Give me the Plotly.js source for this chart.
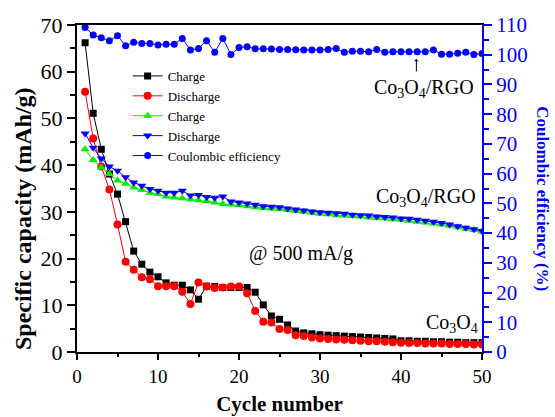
<!DOCTYPE html>
<html><head><meta charset="utf-8">
<script src="https://cdn.plot.ly/plotly-3.0.1.min.js"></script>
<style>html,body{margin:0;padding:0;background:#fff}#chart{width:555px;height:417px}</style>
</head><body><div id="chart"></div>
<script>
const cycles = Array.from({length:50},(_,i)=>i+1);
const chargeCo3O4 = [66.2,51.1,43.4,38.1,33.8,27.9,21.6,18.8,17.1,16.1,
  14.8,14.3,14.3,13.3,11.3,14.1,14.0,13.8,13.8,13.8,
  13.8,12.8,10.1,7.7,7.0,5.8,4.5,4.1,3.9,3.7,
  3.6,3.5,3.4,3.3,3.2,3.1,3.0,2.9,2.8,2.4,
  2.4,2.3,2.3,2.2,2.2,2.1,2.1,2.0,2.0,2.0];
const dischargeCo3O4 = [55.7,45.7,39.7,34.8,27.3,19.3,17.6,16.0,15.6,14.1,
  14.1,14.1,12.9,10.3,14.9,14.0,13.7,13.8,14.0,14.0,
  12.6,8.8,6.5,6.3,4.9,4.7,3.6,3.4,3.1,2.9,
  2.8,2.7,2.6,2.5,2.4,2.3,2.3,2.2,2.1,2.0,
  1.9,1.9,1.8,1.8,1.8,1.7,1.7,1.7,1.6,1.6];
const chargeRGO = [43.4,41.1,39.5,38.1,36.7,36.0,35.2,34.7,34.1,33.8,
  33.3,33.1,32.9,32.7,32.5,32.3,32.0,31.7,31.6,31.4,
  31.2,31.0,30.8,30.7,30.6,30.4,30.2,30.0,29.8,29.6,
  29.5,29.3,29.2,29.1,29.0,28.8,28.7,28.6,28.4,28.3,
  28.1,27.9,27.7,27.5,27.3,27.0,26.7,26.4,26.1,25.8];
const dischargeRGO = [46.8,43.7,41.4,39.7,38.8,37.4,36.3,35.6,34.9,34.5,
  34.1,34.1,34.5,33.5,33.6,33.2,33.0,33.3,32.2,32.0,
  31.8,31.5,31.2,31.1,31.0,30.7,30.5,30.3,30.1,29.9,
  29.8,29.7,29.6,29.4,29.3,29.2,29.0,28.9,28.8,28.6,
  28.5,28.3,28.1,27.9,27.6,27.3,26.9,26.6,26.3,25.9];
const coulombicEff = [109.2,106.6,105.7,104.7,106.4,103.0,104.2,103.8,103.8,103.3,
  103.5,103.5,105.5,101.6,102.1,104.7,100.8,105.5,100.1,102.4,
  102.7,102.0,102.0,101.9,101.8,101.8,101.7,101.6,101.6,101.6,
  101.8,102.1,100.8,101.2,101.2,101.0,101.8,100.8,101.0,101.0,
  101.0,101.0,101.0,101.6,100.2,100.2,100.5,100.8,100.1,100.4];

const serif = 'Liberation Serif, Times New Roman, serif';
function tr(y, name, color, symbol, size, axis){
  return {x:cycles, y:y, name:name, type:'scatter', mode:'lines+markers', yaxis:axis||'y',
    line:{color:color, width:1}, marker:{color:color, symbol:symbol, size:size}};
}
const data = [
  tr(chargeCo3O4,'Charge','#000000','square',7),
  tr(dischargeCo3O4,'Discharge','#ff0000','circle',8),
  tr(chargeRGO,'Charge','#00ee00','triangle-up',8),
  tr(dischargeRGO,'Discharge','#0000ff','triangle-down',8),
  tr(coulombicEff,'Coulombic efficiency','#0000ff','circle',7,'y2')
];
const layout = {
  width:555, height:417,
  margin:{l:77, r:73, t:25, b:65},
  paper_bgcolor:'#fff', plot_bgcolor:'#fff',
  font:{family:serif, size:17, color:'#000'},
  showlegend:true,
  legend:{x:0.125, y:0.89, xanchor:'left', yanchor:'top', bgcolor:'rgba(0,0,0,0)',
    font:{family:serif, size:13, color:'#000'}, tracegroupgap:0, itemwidth:30},
  xaxis:{range:[0,50], dtick:10, tick0:0, showgrid:false, zeroline:false,
    showline:true, linecolor:'#000', linewidth:2, mirror:true,
    ticks:'outside', ticklen:6, tickwidth:2, tickcolor:'#000',
    minor:{dtick:5, ticks:'outside', ticklen:3, tickwidth:2, tickcolor:'#000'},
    tickfont:{family:serif, size:19},
    title:{text:'<b>Cycle number</b>', font:{family:serif, size:21}, standoff:11}},
  yaxis:{range:[0,70], dtick:10, tick0:0, showgrid:false, zeroline:false,
    showline:true, linecolor:'#000', linewidth:2,
    ticks:'outside', ticklen:8, tickwidth:2, tickcolor:'#000',
    minor:{dtick:5, ticks:'outside', ticklen:5, tickwidth:2, tickcolor:'#000'},
    tickfont:{family:serif, size:22}},
  yaxis2:{range:[0,110], dtick:10, tick0:0, overlaying:'y', side:'right', showgrid:false, zeroline:false,
    showline:true, linecolor:'#0000ff', linewidth:2,
    ticks:'outside', ticklen:8, tickwidth:2, tickcolor:'#0000ff',
    minor:{dtick:5, ticks:'outside', ticklen:5, tickwidth:2, tickcolor:'#0000ff'},
    tickfont:{family:serif, size:21, color:'#0000ff'}},
  annotations:[
    {xref:'paper', yref:'paper', x:-0.133, y:0.407, xanchor:'center', yanchor:'middle',
      text:'<b>Specific capacity (mAh/g)</b>', textangle:-90,
      showarrow:false, font:{family:serif, size:24, color:'#000'}},
    {xref:'paper', yref:'paper', x:1.151, y:0.47, xanchor:'center', yanchor:'middle',
      text:'<b>Coulombic efficiency (%)</b>', textangle:90,
      showarrow:false, font:{family:serif, size:17, color:'#0000ff'}},
    {xref:'x', yref:'y2', x:41.9, y:98.6, text:'', showarrow:true,
      arrowhead:1, arrowsize:0.8, arrowwidth:1, arrowcolor:'#000', ax:0, ay:14, standoff:0},
    {xref:'x', yref:'y2', x:42.8, y:88.5, text:'Co<sub>3</sub>O<sub>4</sub>/RGO', showarrow:false,
      font:{family:serif, size:20, color:'#000'}},
    {xref:'x', yref:'y', x:43.1, y:33.0, text:'Co<sub>3</sub>O<sub>4</sub>/RGO', showarrow:false,
      font:{family:serif, size:20, color:'#000'}},
    {xref:'x', yref:'y', x:46.3, y:6.2, text:'Co<sub>3</sub>O<sub>4</sub>', showarrow:false,
      font:{family:serif, size:20, color:'#000'}},
    {xref:'x', yref:'y', x:27.7, y:21.0, text:'@ 500 mA/g', showarrow:false,
      font:{family:serif, size:20, color:'#000'}}
  ]
};
Plotly.newPlot('chart', data, layout, {displayModeBar:false, staticPlot:true});
</script></body></html>
